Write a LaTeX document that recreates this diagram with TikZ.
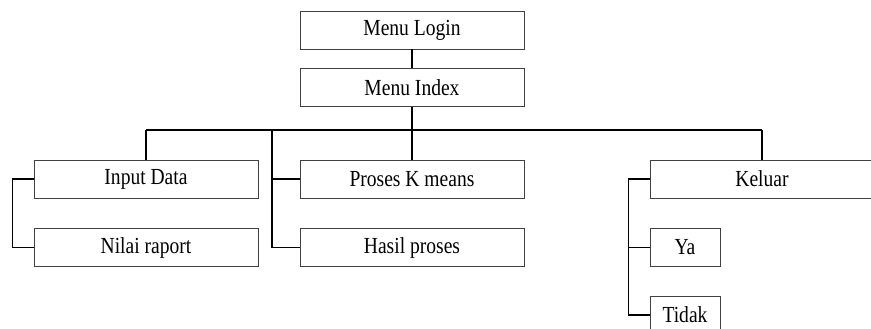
\documentclass[tikz,border=0pt]{standalone}
\usepackage{fontspec}
\setmainfont{Liberation Serif}
\begin{document}
\begin{tikzpicture}[x=1pt,y=-1pt,
  box/.style={draw=black!75,line width=0.8pt,rectangle,inner sep=0pt,minimum height=38pt,font=\fontsize{23}{25}\selectfont},
  conn/.style={draw=black,line width=1.1pt}]
\newcommand{\tx}[1]{\scalebox{0.85}[1]{#1}}
\useasboundingbox (0,0) rectangle (871,329);
\begin{scope}
\clip (0,0) rectangle (871,329);
\node[box,minimum width=224pt] (login) at (412,30) {\tx{Menu Login}};
\node[box,minimum width=224pt] (index) at (412,87.5) {\tx{Menu Index}};
\node[box,minimum width=224pt] (input) at (146,179) {\tx{Input Data}};
\node[box,minimum width=224pt] (nilai) at (146,247.5) {\tx{Nilai raport}};
\node[box,minimum width=224pt] (proses) at (412,179) {\tx{Proses K means}};
\node[box,minimum width=224pt] (hasil) at (412,247.5) {\tx{Hasil proses}};
\node[box,minimum width=224pt] (keluar) at (762,179) {\tx{Keluar}};
\node[box,minimum width=70pt] (ya) at (685,247.5) {\tx{Ya}};
\node[box,minimum width=70pt] (tidak) at (685,315) {\tx{Tidak}};
\coordinate (busL) at (146,130);
\coordinate (busM) at (272,130);
\coordinate (busR) at (762,130);
\draw[conn] (login) -- (index);
\draw[conn] (index) -- (proses);
\draw[conn] (busL) -- (busR);
\draw[conn] (busL) -- (input);
\draw[conn] (busR) -- (keluar);
\draw[conn] (busM) |- (hasil.west);
\draw[conn] (proses.west) -- (proses.west -| busM);
\draw[conn] (input.west) -- ++(-21,0) |- (nilai.west);
\draw[conn] (keluar.west) -- ++(-21,0) |- (tidak.west);
\draw[conn] (ya.west) -- ++(-21,0);
\end{scope}
\end{tikzpicture}
\end{document}
